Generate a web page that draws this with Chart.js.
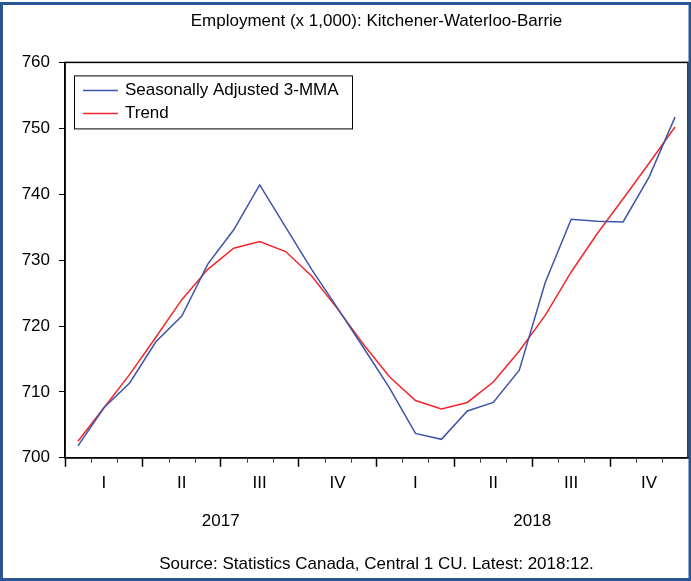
<!DOCTYPE html>
<html>
<head>
<meta charset="utf-8">
<script src="https://cdn.jsdelivr.net/npm/chart.js@4.4.1/dist/chart.umd.min.js"></script>
<style>
  html, body { margin: 0; padding: 0; background: #fff; }
  #wrap { width: 691px; height: 581px; position: relative; }
</style>
</head>
<body>
<div id="wrap"><canvas id="c" width="691" height="581"></canvas></div>
<script>
// ---- Data ----
const months = ['2017-01','2017-02','2017-03','2017-04','2017-05','2017-06',
                '2017-07','2017-08','2017-09','2017-10','2017-11','2017-12',
                '2018-01','2018-02','2018-03','2018-04','2018-05','2018-06',
                '2018-07','2018-08','2018-09','2018-10','2018-11','2018-12'];
const seasonallyAdjusted = [701.8, 707.6, 711.4, 717.6, 721.5, 729.4,
                            734.6, 741.4, 735.0, 728.6, 722.7, 716.7,
                            710.6, 703.7, 702.8, 707.1, 708.4, 713.3,
                            726.6, 736.2, 735.9, 735.8, 742.6, 751.7];
const trend = [702.5, 707.6, 712.7, 718.3, 724.0, 728.6,
               731.8, 732.8, 731.3, 727.6, 722.6, 717.2,
               712.3, 708.7, 707.4, 708.4, 711.5, 716.2,
               721.6, 728.2, 734.0, 739.3, 744.7, 750.2];
const quarterLabels = ['I','II','III','IV'];
const yearLabels = ['2017','2018'];
const seriesNames = ['Seasonally Adjusted 3-MMA', 'Trend'];
const titleText = 'Employment (x 1,000): Kitchener-Waterloo-Barrie';
const sourceText = 'Source: Statistics Canada, Central 1 CU. Latest: 2018:12.';

const FONT = "'Liberation Sans', Arial, sans-serif";
const BLUE = '#3D55A8';
const RED = '#F2262B';

// frame, plot box, minor ticks and in-plot legend
const decor = {
  id: 'decor',
  beforeDraw(chart) {
    const c = chart.ctx;
    c.save();
    c.fillStyle = '#fff';
    c.fillRect(0, 0, chart.width, chart.height);
    c.restore();
  },
  afterDraw(chart) {
    const c = chart.ctx;
    const a = chart.chartArea;
    const xs = chart.scales.x;
    c.save();
    // plot box
    c.strokeStyle = '#000';
    c.lineWidth = 1.5;
    c.strokeRect(a.left, a.top, a.right - a.left, a.bottom - a.top);
    // minor month ticks
    const half = (xs.getPixelForValue(1) - xs.getPixelForValue(0)) / 2;
    c.lineWidth = 1;
    c.strokeStyle = '#444';
    for (let i = 0; i <= months.length; i++) {
      if (i % 3 === 0) continue;
      const px = Math.round(xs.getPixelForValue(i) - half) + 0.5;
      c.beginPath();
      c.moveTo(px, a.bottom);
      c.lineTo(px, a.bottom + 5);
      c.stroke();
    }
    // legend
    const lx = a.left + 9, ly = a.top + 13, lw = 278, lh = 53;
    c.lineWidth = 1;
    c.strokeStyle = '#000';
    c.strokeRect(lx + 0.5, ly + 0.5, lw, lh);
    chart.data.datasets.forEach((ds, k) => {
      const yy = ly + 15 + k * 23;
      c.strokeStyle = ds.borderColor;
      c.lineWidth = 1.5;
      c.beginPath();
      c.moveTo(lx + 9, yy);
      c.lineTo(lx + 44, yy);
      c.stroke();
      c.fillStyle = '#000';
      c.font = '17px ' + FONT;
      c.textBaseline = 'middle';
      c.textAlign = 'left';
      c.fillText(ds.label, lx + 51, yy);
    });
    // outer frame
    c.strokeStyle = '#2B5592';
    c.lineWidth = 3;
    c.strokeRect(1.5, 3.5, chart.width - 2.5, chart.height - 5);
    c.restore();
  }
};

new Chart(document.getElementById('c'), {
  type: 'line',
  data: {
    labels: months,
    datasets: [
      { label: seriesNames[0], data: seasonallyAdjusted, borderColor: BLUE, borderWidth: 1.5,
        pointRadius: 0, tension: 0, fill: false },
      { label: seriesNames[1], data: trend, borderColor: RED, borderWidth: 1.5,
        pointRadius: 0, tension: 0, fill: false }
    ]
  },
  options: {
    responsive: false,
    animation: false,
    devicePixelRatio: 1,
    layout: { padding: { left: 3, right: 3, top: 0, bottom: 2 } },
    plugins: {
      legend: { display: false },
      tooltip: { enabled: false },
      title: {
        display: true, text: titleText, fullSize: false, color: '#000',
        font: { family: FONT, size: 17, weight: 'normal' },
        padding: { top: 11, bottom: 31 }
      },
      subtitle: {
        display: true, text: sourceText, position: 'bottom', fullSize: false, color: '#000',
        font: { family: FONT, size: 17, weight: 'normal' },
        padding: { top: 11, bottom: 4 }
      }
    },
    scales: {
      x: {
        type: 'category',
        offset: true,
        grid: {
          display: true, drawOnChartArea: false, drawTicks: true, tickLength: 9, offset: true,
          tickColor: (ctx) => (ctx.index % 3 === 0 ? '#000' : 'rgba(0,0,0,0)'), tickWidth: 1.5
        },
        border: { display: true, color: '#000', width: 1.5 },
        ticks: {
          autoSkip: false, maxRotation: 0, minRotation: 0, padding: 6, color: '#000',
          font: { family: FONT, size: 17 },
          callback: (v, i) => (i % 3 === 1 ? quarterLabels[Math.floor(i / 3) % 4] : '')
        }
      },
      x2: {
        type: 'category',
        labels: yearLabels,
        position: 'bottom',
        offset: true,
        grid: { display: false, drawTicks: false, tickLength: 0 },
        border: { display: false },
        ticks: { padding: 12, color: '#000', font: { family: FONT, size: 17 }, maxRotation: 0 }
      },
      y: {
        min: 700, max: 760,
        afterFit: (s) => { s.width = 62; },
        grid: { display: true, drawOnChartArea: false, tickLength: 6, color: '#000', tickColor: '#000' },
        border: { display: true, color: '#000', width: 1.5 },
        ticks: { stepSize: 10, padding: 9, color: '#000', font: { family: FONT, size: 17 } }
      }
    }
  },
  plugins: [decor]
});
</script>
</body>
</html>
